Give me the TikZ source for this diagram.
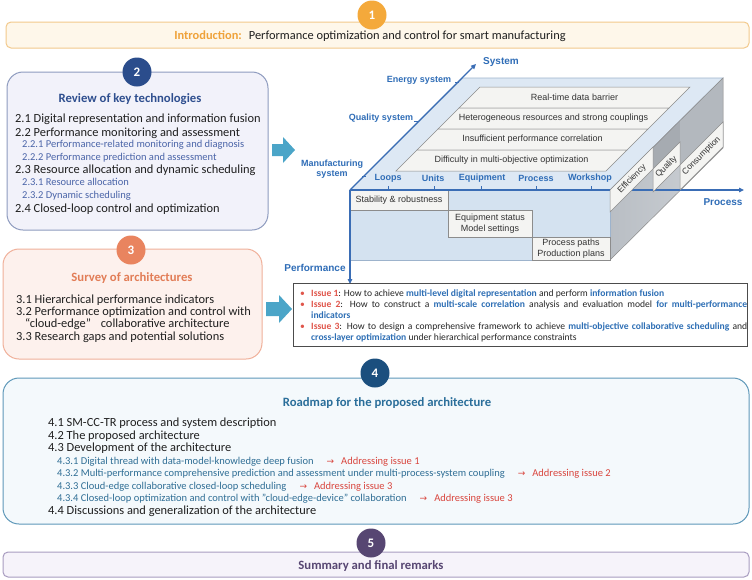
\documentclass[tikz,border=0pt]{standalone}
\usepackage{fontspec}
\setmainfont{Carlito}
\newfontfamily\arialf{Liberation Sans}
\newfontfamily\dejavuf{DejaVu Sans}
\usetikzlibrary{arrows.meta}
\definecolor{cA}{HTML}{F4A93B}
\definecolor{fA}{HTML}{FEF7EA}
\definecolor{dA}{HTML}{F2C98C}
\definecolor{tA}{HTML}{EFA23A}
\definecolor{cB}{HTML}{2B4D8C}
\definecolor{fB}{HTML}{F2F2FA}
\definecolor{dB}{HTML}{8E9BBF}
\definecolor{tB}{HTML}{2F4F8F}
\definecolor{sB}{HTML}{4A64A8}
\definecolor{cC}{HTML}{E9845F}
\definecolor{fC}{HTML}{FDF1ED}
\definecolor{dC}{HTML}{F0B09A}
\definecolor{tC}{HTML}{E27D57}
\definecolor{cD}{HTML}{1B4F7E}
\definecolor{fD}{HTML}{F4F9FC}
\definecolor{dD}{HTML}{5E98B9}
\definecolor{tD}{HTML}{2A6E9A}
\definecolor{sD}{HTML}{2F6E95}
\definecolor{redD}{HTML}{D9463E}
\definecolor{cE}{HTML}{574672}
\definecolor{fE}{HTML}{F6F3FA}
\definecolor{dE}{HTML}{A89CC0}
\definecolor{arrc}{HTML}{4BA5C8}
\definecolor{axisc}{HTML}{3A6DB5}
\definecolor{axlabc}{HTML}{2F6DB7}
\definecolor{topf}{HTML}{DDE8F4}
\definecolor{frontf}{HTML}{D4E2F0}
\definecolor{edgeb}{HTML}{9DB3CC}
\definecolor{bandf}{HTML}{F4F4F2}
\definecolor{bandd}{HTML}{8C8C8C}
\definecolor{sideA}{HTML}{B9BEC4}
\definecolor{sideB}{HTML}{CDD1D6}
\definecolor{sideDark}{HTML}{A6ABB1}
\definecolor{sideMid}{HTML}{B3B8BE}
\definecolor{issred}{HTML}{E0564B}
\definecolor{issblue}{HTML}{2E6FB5}
\begin{document}
\begin{tikzpicture}[x=1pt,y=-1pt]
\tikzset{
  roundbox/.style={rounded corners=16pt, line width=1pt},
  flatbox/.style={rounded corners=5pt, line width=1pt},
  numc/.style={circle, minimum size=29pt, inner sep=0pt, text=white, font=\fontsize{13}{13}\selectfont\bfseries},
  mainitem/.style={anchor=base west, inner sep=0pt, font=\fontsize{12.4}{14}\selectfont, text=black!88},
  subitem/.style={anchor=base west, inner sep=0pt, font=\fontsize{10.5}{12}\selectfont},
  ttl/.style={anchor=base, inner sep=0pt, font=\fontsize{12.7}{14}\selectfont\bfseries},
  blockarrow/.style={fill=arrc, draw=none},
  axisline/.style={draw=axisc, line width=1.1pt, -{Triangle[length=5pt,width=4.5pt]}},
  tickline/.style={draw=axisc, line width=0.8pt},
  axlab/.style={font=\arialf\bfseries\fontsize{9}{10.5}\selectfont, text=axlabc, inner sep=0pt, align=center},
  biglab/.style={font=\arialf\bfseries\fontsize{10}{11}\selectfont, text=axlabc, inner sep=0pt},
  boxtxt/.style={font=\arialf\fontsize{9}{11}\selectfont, text=black!80, inner sep=0pt, align=center},
  tabtxt/.style={font=\arialf\fontsize{8.5}{10}\selectfont, text=black!80, inner sep=0pt},
  bandshape/.style={fill=bandf, draw=bandd, line width=0.5pt},
  wbox/.style={fill=bandf, draw=bandd, line width=0.5pt},
  tabshape/.style={fill=bandf, draw=bandd, line width=0.5pt},
}
\fill[white] (0,0) rectangle (752,579);
\useasboundingbox (0,0) rectangle (752,579);

% ---------- Box 1
\draw[flatbox, fill=fA, draw=dA] (6,22) rectangle (749,48);
\node[numc, fill=cA] (n1) at (372,15) {1};
\node[anchor=base, inner sep=0pt, font=\fontsize{12.4}{14}\selectfont, text=black!88] (intro) at (370,39.5)
  {\textcolor{tA}{\bfseries Introduction:}\hspace{7pt}Performance optimization and control for smart manufacturing};

% ---------- Box 2
\draw[roundbox, fill=fB, draw=dB] (7,72) rectangle (268,230);
\node[numc, fill=cB] (n2) at (137,72) {2};
\node[ttl, text=tB] (t2) at (130,102.5) {Review of key technologies};
\node[mainitem] (i21) at (15,122) {2.1 Digital representation and information fusion};
\node[mainitem] (i22) at (15,136) {2.2 Performance monitoring and assessment};
\node[subitem, text=sB] (i221) at (22,147.5) {2.2.1 Performance-related monitoring and diagnosis};
\node[subitem, text=sB] (i222) at (22,160.5) {2.2.2 Performance prediction and assessment};
\node[mainitem] (i23) at (15,173) {2.3 Resource allocation and dynamic scheduling};
\node[subitem, text=sB] (i231) at (22,185.5) {2.3.1 Resource allocation};
\node[subitem, text=sB] (i232) at (22,198.5) {2.3.2 Dynamic scheduling};
\node[mainitem] (i24) at (15,212) {2.4 Closed-loop control and optimization};

% ---------- Box 3
\draw[roundbox, fill=fC, draw=dC] (3,249) rectangle (262,359);
\node[numc, fill=cC] (n3) at (131,250) {3};
\node[ttl, text=tC] (t3) at (132,281.5) {Survey of architectures};
\node[mainitem] (i31) at (16,303) {3.1 Hierarchical performance indicators};
\node[mainitem] (i32) at (16,315) {3.2 Performance optimization and control with};
\node[mainitem] (i32b) at (25,327) {“cloud-edge”\hspace{7pt} collaborative architecture};
\node[mainitem] (i33) at (16,340) {3.3 Research gaps and potential solutions};

% ---------- block arrows
\fill[blockarrow] (272,144) -- (283,144) -- (283,137) -- (295,150) -- (283,163) -- (283,156) -- (272,156) -- cycle;
\fill[blockarrow] (266,302) -- (279,302) -- (279,295) -- (292,309) -- (279,323) -- (279,316) -- (266,316) -- cycle;

% ---------- 3D diagram
\filldraw[fill=topf, draw=edgeb, line width=0.6pt] (350,190) -- (610,190) -- (723,78) -- (463,78) -- cycle;
\shade[left color=sideA, right color=sideB] (610,190) -- (723,78) -- (723,148) -- (610,260) -- cycle;
\fill[sideDark] (653,147) -- (680,120) -- (680,142) -- (653,169) -- cycle;
\fill[sideMid] (680,120) -- (723,78) -- (723,122) -- (680,165) -- cycle;
\draw[draw=bandd, line width=0.5pt] (610,190) -- (723,78) -- (723,148) -- (610,260) -- cycle;
\filldraw[fill=frontf, draw=edgeb, line width=0.6pt] (350,190) rectangle (610,260);

\filldraw[bandshape] (480,87) -- (690,87) -- (669,108) -- (459,108) -- cycle;
\filldraw[bandshape] (459,108) -- (669,108) -- (648,129) -- (438,129) -- cycle;
\filldraw[bandshape] (438,129) -- (648,129) -- (627,150) -- (417,150) -- cycle;
\filldraw[bandshape] (417,150) -- (627,150) -- (606,171) -- (396,171) -- cycle;
\node[boxtxt] (b0) at (574.5,97.5) {Real-time data barrier};
\node[boxtxt] (b1) at (553.5,118.5) {Heterogeneous resources and strong couplings};
\node[boxtxt] (b2) at (532.5,139.5) {Insufficient performance correlation};
\node[boxtxt] (b3) at (511.5,160.5) {Difficulty in multi-objective optimization};

\filldraw[wbox] (350,190) rectangle (448,210);
\filldraw[wbox] (448,210) rectangle (532,237);
\filldraw[wbox] (532,237) rectangle (610,260);
\node[boxtxt] (w1) at (399,200) {Stability \& robustness};
\node[boxtxt] (w2) at (490,223.5) {Equipment status\\Model settings};
\node[boxtxt] (w3) at (571,248.5) {Process paths\\Production plans};

\coordinate (O) at (350,190);
\coordinate (sysend) at (476,64);
\coordinate (procend) at (744,190);
\coordinate (perfend) at (350,284);
\draw[axisline] (O) -- (procend);
\draw[axisline] (O) -- (sysend);
\draw[axisline] (O) -- (perfend);

\filldraw[tabshape] (610,190) -- (653,147) -- (653,169) -- (610,212) -- cycle;
\filldraw[tabshape] (653,169) -- (680,142) -- (680,165) -- (653,192) -- cycle;
\filldraw[tabshape] (680,165) -- (723,122) -- (723,147) -- (680,190) -- cycle;
\node[tabtxt, rotate=45] (eff) at (632,179) {Efficiency};
\node[tabtxt, rotate=45] (qual) at (666.5,167) {Quality};
\node[tabtxt, rotate=45] (cons) at (701.5,156) {Consumption};

\foreach \xx in {388,434,481,536,591} \draw[tickline] (\xx,186) -- (\xx,190);
\draw[tickline] (455,82) -- (459,82);
\draw[tickline] (414,121) -- (418,121);
\draw[tickline] (362,176) -- (366,176);

\node[axlab] (l1) at (388,178) {Loops};
\node[axlab] (l2) at (433,178) {Units};
\node[axlab] (l3) at (482,178) {Equipment};
\node[axlab] (l4) at (536,178) {Process};
\node[axlab] (l5) at (590,178) {Workshop};
\node[axlab] (s1) at (419,80) {Energy system};
\node[axlab] (s2) at (381,118) {Quality system};
\node[axlab] (s3) at (332,169) {Manufacturing\\system};
\node[biglab] (sys) at (501,62) {System};
\node[biglab] (proc) at (723,202) {Process};
\node[biglab] (perf) at (315,268) {Performance};

% ---------- Issues box
\draw[draw=black!70, fill=white, line width=0.7pt] (293,283) rectangle (747,346);
\node[anchor=north west, text width=436pt, inner sep=0pt, align=justify,
      font=\fontsize{9.6}{11}\selectfont, text=black!85] (issues) at (311,289.5)
{\hyphenpenalty=10000\exhyphenpenalty=10000\parindent=0pt
\hspace*{-11pt}\makebox[11pt][l]{\textcolor{issred}{\textbullet}}\textcolor{issred}{\bfseries Issue 1}: How to achieve \textcolor{issblue}{\bfseries multi-level digital representation} and perform \textcolor{issblue}{\bfseries information fusion}\par
\hspace*{-11pt}\makebox[11pt][l]{\textcolor{issred}{\textbullet}}\textcolor{issred}{\bfseries Issue 2}: How to construct a \textcolor{issblue}{\bfseries multi-scale correlation} analysis and evaluation model \textcolor{issblue}{\bfseries for multi-performance}\linebreak\textcolor{issblue}{\bfseries indicators}\par
\hspace*{-11pt}\makebox[11pt][l]{\textcolor{issred}{\textbullet}}\textcolor{issred}{\bfseries Issue 3}: How to design a comprehensive framework to achieve \textcolor{issblue}{\bfseries multi-objective collaborative scheduling} and\linebreak\textcolor{issblue}{\bfseries cross-layer optimization} under hierarchical performance constraints\par};

% ---------- Box 4
\draw[roundbox, fill=fD, draw=dD] (3,378) rectangle (749,524);
\node[numc, fill=cD] (n4) at (375,373) {4};
\node[ttl, text=tD] (t4) at (387,406.5) {Roadmap for the proposed architecture};
\node[mainitem] (i41) at (48,426) {4.1 SM-CC-TR process and system description};
\node[mainitem] (i42) at (48,439) {4.2 The proposed architecture};
\node[mainitem] (i43) at (48,451) {4.3 Development of the architecture};
\node[subitem, text=sD] (i431) at (57,464.5) {4.3.1 Digital thread with data-model-knowledge deep fusion\hspace{13pt}\textcolor{redD}{{\dejavuf\fontsize{9}{10}\selectfont →}\hspace{7pt}Addressing issue 1}};
\node[subitem, text=sD] (i432) at (57,476.5) {4.3.2 Multi-performance comprehensive prediction and assessment under multi-process-system coupling\hspace{13pt}\textcolor{redD}{{\dejavuf\fontsize{9}{10}\selectfont →}\hspace{7pt}Addressing issue 2}};
\node[subitem, text=sD] (i433) at (57,489.5) {4.3.3 Cloud-edge collaborative closed-loop scheduling\hspace{13pt}\textcolor{redD}{{\dejavuf\fontsize{9}{10}\selectfont →}\hspace{7pt}Addressing issue 3}};
\node[subitem, text=sD] (i434) at (57,501.5) {4.3.4 Closed-loop optimization and control with "cloud-edge-device" collaboration\hspace{13pt}\textcolor{redD}{{\dejavuf\fontsize{9}{10}\selectfont →}\hspace{7pt}Addressing issue 3}};
\node[mainitem] (i44) at (48,514) {4.4 Discussions and generalization of the architecture};

% ---------- Box 5
\draw[flatbox, fill=fE, draw=dE] (3,552) rectangle (749,577);
\node[numc, fill=cE] (n5) at (371,543) {5};
\node[ttl, text=cE] (t5) at (371,569.5) {Summary and final remarks};
\end{tikzpicture}
\end{document}
